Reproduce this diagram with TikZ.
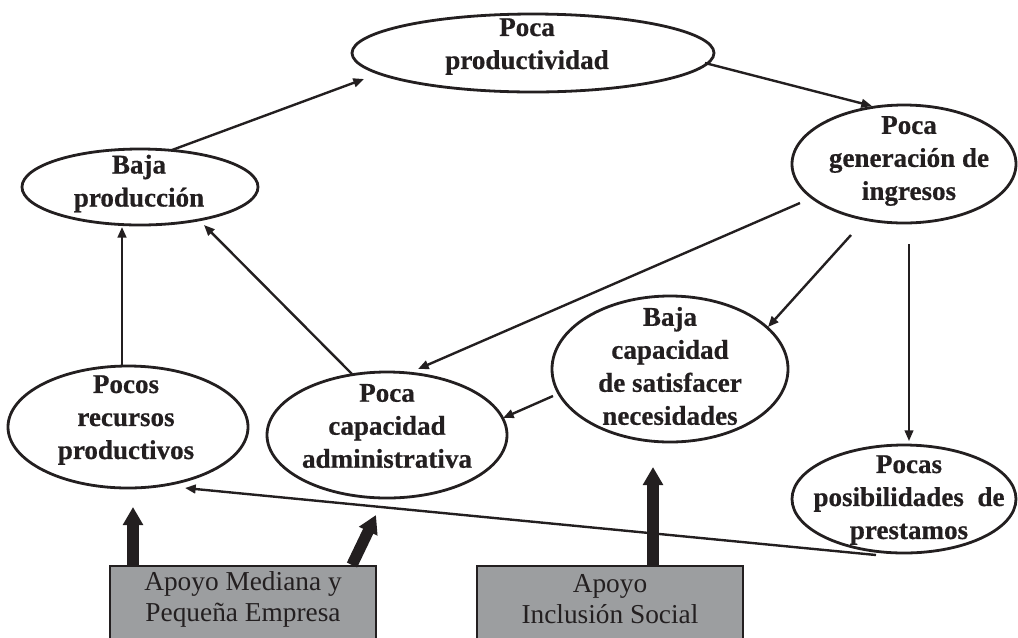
\documentclass[tikz,border=0pt]{standalone}
\usepackage{fontspec}
\setmainfont{Liberation Serif}
\usetikzlibrary{shapes.geometric,arrows.meta}
\definecolor{ink}{HTML}{231F20}
\definecolor{boxgray}{HTML}{9C9EA0}
\begin{document}
\begin{tikzpicture}[x=0.75pt,y=-0.75pt,
  ell/.style 2 args={ellipse,draw=ink,line width=2.1pt,inner sep=0pt,
    minimum width=#1*1.5pt,minimum height=#2*1.5pt},
  lbl/.style={font=\bfseries\fontsize{20.3}{24.75}\selectfont\addfontfeature{FakeBold=0.6},
    align=center,text=ink,inner sep=0pt},
  boxst/.style={rectangle,draw=ink,line width=2.2pt,fill=boxgray,inner sep=0pt,
    minimum width=199.5pt,minimum height=63pt},
  boxlbl/.style={font=\fontsize{20.5}{23.25}\selectfont,align=center,text=ink,inner sep=0pt},
  arr/.style={draw=ink,line width=1.8pt,-{Triangle[length=8pt,width=6.5pt]}},
  bigarr/.style={draw=ink,line width=8.5pt,-{Triangle[length=13.5pt,width=14.5pt]}}
]
\useasboundingbox (0,0) rectangle (1018,637);

% ellipses
\node[ell={181}{39}] (pp) at (533,53) {};
\node[ell={112}{59}] (gen) at (904,164) {};
\node[ell={118}{38}] (bp) at (140,187) {};
\node[ell={120}{61}] (pr) at (128,427) {};
\node[ell={120}{63}] (pca) at (387,435) {};
\node[ell={118}{73}] (bcs) at (670,369) {};
\node[ell={112}{54}] (pps) at (904,499) {};

% labels
\node[lbl] (ppt) at (527,46.5) {Poca\\productividad};
\node[lbl] (gent) at (909,161) {Poca\\generación de\\ingresos};
\node[lbl] (bpt) at (139,183.5) {Baja\\producción};
\node[lbl] (prt) at (126,420) {Pocos\\recursos\\productivos};
\node[lbl] (pcat) at (387,426) {Poca\\capacidad\\administrativa};
\node[lbl] (bcst) at (670,366) {Baja\\capacidad\\de satisfacer\\necesidades};
\node[lbl] (ppst) at (909,500) {Pocas\\posibilidades\ \ de\\prestamos};

% boxes
\node[boxst] (b1) at (243,608) {};
\node[boxst] (b2) at (610,608) {};
\node[boxlbl] (b1t) at (243,599) {Apoyo Mediana y\\Pequeña Empresa};
\node[boxlbl] (b2t) at (610,599) {Apoyo\\Inclusión Social};

% connector end points
\coordinate (c1s) at (172,150); \coordinate (c1e) at (364,79);
\coordinate (c2s) at (705,63);  \coordinate (c2e) at (872,106);
\coordinate (c3s) at (800,203); \coordinate (c3e) at (418,369);
\coordinate (c4s) at (851,235); \coordinate (c4e) at (768,327);
\coordinate (c5s) at (909,244); \coordinate (c5e) at (909,441);
\coordinate (c6s) at (553,396); \coordinate (c6e) at (503,418);
\coordinate (c7s) at (352,374); \coordinate (c7e) at (204,225);
\coordinate (c8s) at (122,366); \coordinate (c8e) at (122,227);
\coordinate (c9s) at (876,555); \coordinate (c9e) at (185,488);

\draw[arr] (c1s) -- (c1e);
\draw[arr] (c2s) -- (c2e);
\draw[arr] (c3s) -- (c3e);
\draw[arr] (c4s) -- (c4e);
\draw[arr,line width=1.4pt] (c5s) -- (c5e);
\draw[arr] (c6s) -- (c6e);
\draw[arr] (c7s) -- (c7e);
\draw[arr] (c8s) -- (c8e);
\draw[arr] (c9s) -- (c9e);

% thick arrows
\coordinate (t1s) at (133,566); \coordinate (t1e) at (133,507);
\coordinate (t2s) at (352,565); \coordinate (t2e) at (376,515);
\coordinate (t3s) at (653,566); \coordinate (t3e) at (653,467);
\draw[bigarr] (t1s) -- (t1e);
\draw[bigarr] (t2s) -- (t2e);
\draw[bigarr] (t3s) -- (t3e);
\end{tikzpicture}
\end{document}
